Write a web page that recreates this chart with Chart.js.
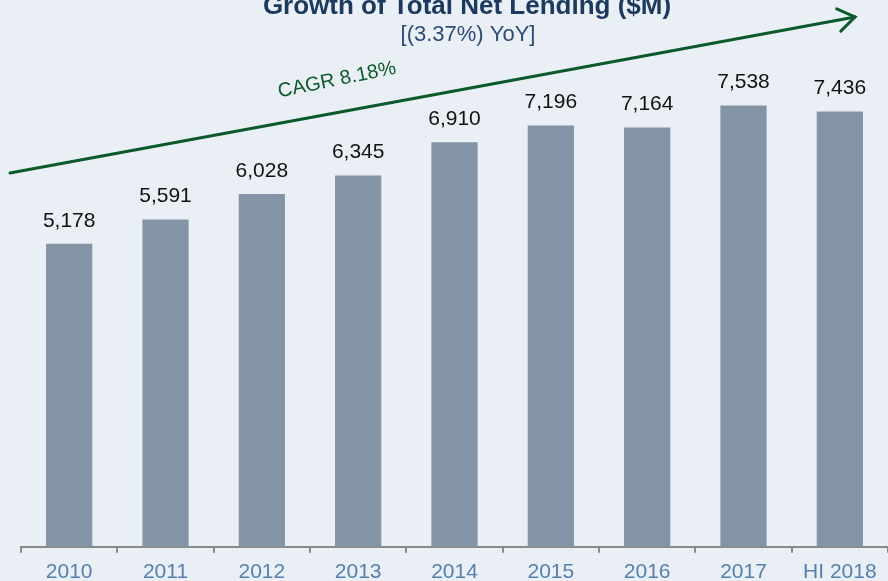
<!DOCTYPE html>
<html>
<head>
<meta charset="utf-8">
<script src="https://cdn.jsdelivr.net/npm/chart.js@4"></script>
<style>
  html, body { margin: 0; padding: 0; background: #eaeff6; overflow: hidden; }
  #wrap { width: 888px; height: 592px; position: relative; }
</style>
</head>
<body>
<div id="wrap"><canvas id="chart"></canvas></div>
<script>
const categories = ['2010', '2011', '2012', '2013', '2014', '2015', '2016', '2017', 'HI 2018'];
const lending = [5178, 5591, 6028, 6345, 6910, 7196, 7164, 7538, 7436];
const titleText = 'Growth of Total Net Lending ($M)';
const subtitleText = '[(3.37%) YoY]';
const cagrText = 'CAGR 8.18%';

const FONT = 'Arial, "Liberation Sans", Helvetica, sans-serif';

// value labels above each bar
const valueLabels = {
  id: 'valueLabels',
  afterDatasetsDraw(chart) {
    const ctx = chart.ctx;
    const meta = chart.getDatasetMeta(0);
    ctx.save();
    ctx.font = '21px ' + FONT;
    ctx.fillStyle = '#111';
    ctx.textAlign = 'center';
    ctx.textBaseline = 'middle';
    meta.data.forEach((bar, i) => {
      ctx.fillText(lending[i].toLocaleString('en-US'), bar.x, bar.y - 23);
    });
    ctx.restore();
  }
};

// title, subtitle and the CAGR trend arrow
const decorations = {
  id: 'decorations',
  afterDraw(chart) {
    const ctx = chart.ctx;
    ctx.save();
    ctx.textAlign = 'center';
    ctx.textBaseline = 'alphabetic';
    ctx.fillStyle = '#1c3a60';
    ctx.font = 'bold 26px ' + FONT;
    ctx.fillText(titleText, 467, 14);
    ctx.fillStyle = '#2d4b78';
    ctx.font = '22px ' + FONT;
    ctx.textBaseline = 'middle';
    ctx.fillText(subtitleText, 468, 35);

    const x0 = 10, y0 = 173, x1 = 855, y1 = 17;
    ctx.strokeStyle = '#0b5a2c';
    ctx.lineWidth = 3;
    ctx.lineCap = 'round';
    ctx.beginPath();
    ctx.moveTo(x0, y0);
    ctx.lineTo(x1, y1);
    ctx.stroke();
    const ang = Math.atan2(y1 - y0, x1 - x0);
    const head = 20;
    ctx.beginPath();
    ctx.moveTo(x1 - head * Math.cos(ang - 0.6), y1 - head * Math.sin(ang - 0.6));
    ctx.lineTo(x1, y1);
    ctx.lineTo(x1 - head * Math.cos(ang + 0.6), y1 - head * Math.sin(ang + 0.6));
    ctx.stroke();

    ctx.translate(337, 80);
    ctx.rotate(ang - 0.02);
    ctx.fillStyle = '#0b5a2c';
    ctx.font = '20px ' + FONT;
    ctx.fillText(cagrText, 0, 0);
    ctx.restore();
  }
};

new Chart(document.getElementById('chart'), {
  type: 'bar',
  data: {
    labels: categories,
    datasets: [{
      data: lending,
      backgroundColor: '#8294a5',
      barPercentage: 0.48,
      categoryPercentage: 1,
    }],
  },
  options: {
    responsive: true,
    maintainAspectRatio: false,
    animation: false,
    layout: { padding: { left: 21, right: 0, top: 20, bottom: 0 } },
    plugins: {
      legend: { display: false },
      tooltip: { enabled: false },
    },
    scales: {
      x: {
        grid: {
          drawOnChartArea: false,
          drawTicks: true,
          tickLength: 6,
          color: '#8a8a8a',
          lineWidth: 2,
        },
        border: { color: '#8a8a8a', width: 2 },
        ticks: {
          color: '#5680b0',
          font: { family: FONT, size: 21 },
          padding: 7,
          maxRotation: 0,
          autoSkip: false,
        },
      },
      y: {
        display: false,
        min: 0,
        max: 9000,
      },
    },
  },
  plugins: [valueLabels, decorations],
});
</script>
</body>
</html>
